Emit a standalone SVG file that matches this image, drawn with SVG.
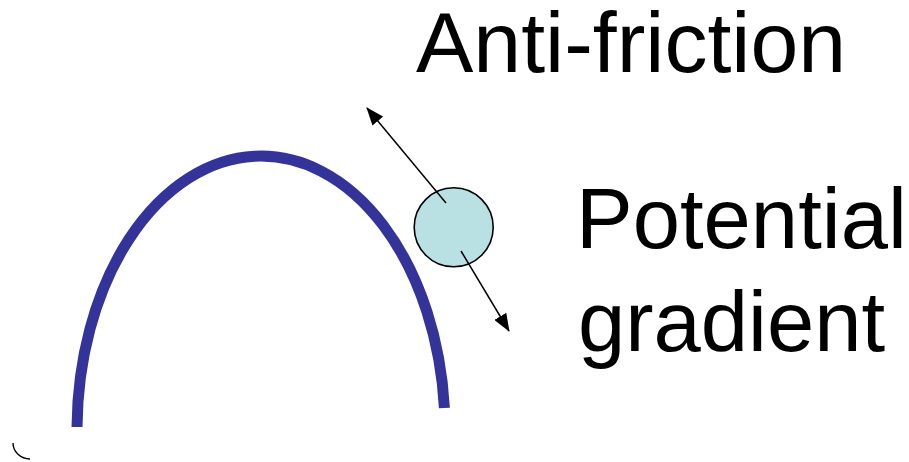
<svg xmlns="http://www.w3.org/2000/svg" width="909" height="462" viewBox="0 0 909 462">
<style>
.lbl{font-family:"Liberation Sans",Arial,sans-serif;fill:#000}
.arr{stroke:#000;stroke-width:1.5;fill:none;marker-end:url(#ah)}
</style>
<defs>
<marker id="ah" markerUnits="userSpaceOnUse" markerWidth="18" markerHeight="14" viewBox="0 0 18 14" refX="17" refY="7" orient="auto">
<path d="M0,0 L18,7 L0,14 Z" fill="#000"/>
</marker>
</defs>
<rect width="909" height="462" fill="#fff"/>
<g id="arch">
<path d="M77.01,427 A184,274 0 0 1 444.4,408" fill="none" stroke="#333399" stroke-width="11"/>
</g>
<g id="tick">
<path d="M13,443 A17,16 0 0 0 30,459" fill="none" stroke="#000" stroke-width="1.4"/>
</g>
<g id="ball">
<circle cx="453.7" cy="227.3" r="39.5" fill="#b9e0e3" stroke="#000" stroke-width="1.6"/>
</g>
<g id="connectors">
<line class="arr" x1="446" y1="203" x2="367" y2="108"/>
<line class="arr" x1="461" y1="251" x2="509" y2="331"/>
</g>
<g id="label-antifriction">
<text class="lbl" x="416" y="72" font-size="86">Anti-friction</text>
</g>
<g id="label-potential">
<text class="lbl" x="576" y="248" font-size="85">Potential</text>
<text class="lbl" x="578" y="351" font-size="85">gradient</text>
</g>
</svg>
